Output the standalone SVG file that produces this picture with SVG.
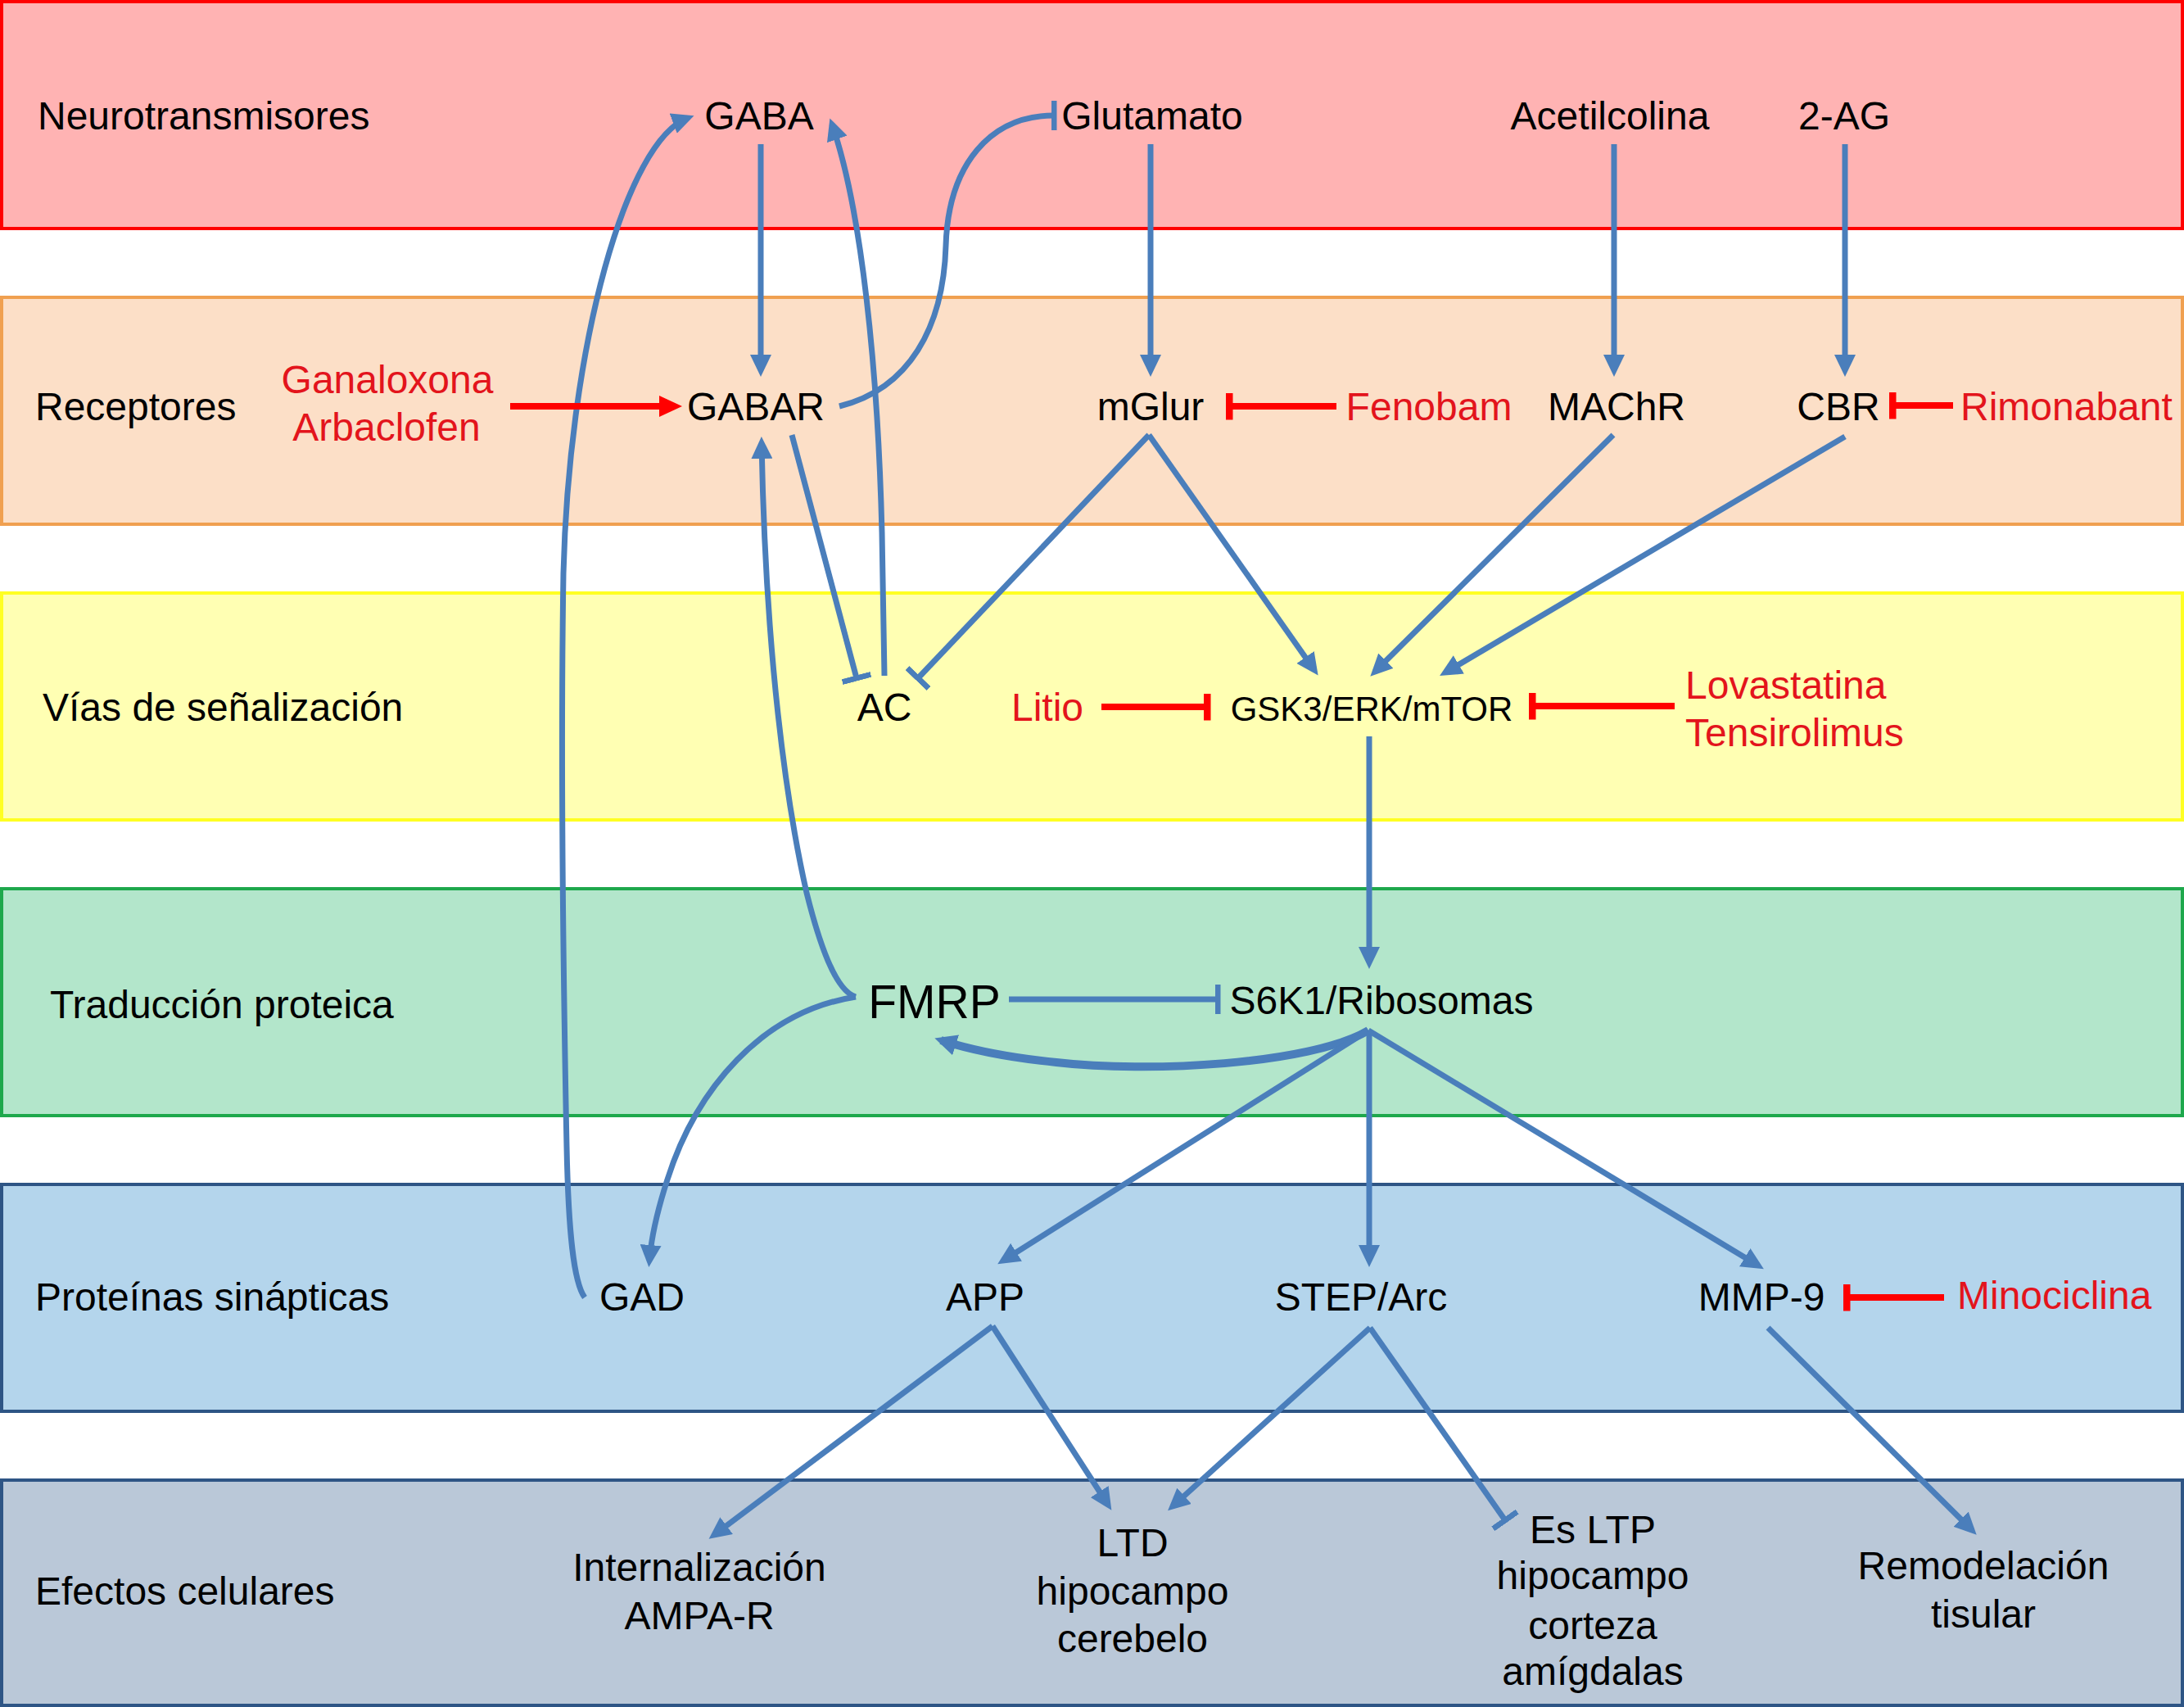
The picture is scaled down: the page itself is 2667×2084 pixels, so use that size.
<svg xmlns="http://www.w3.org/2000/svg" width="2667" height="2084" viewBox="0 0 2667 2084">
<style>
.t{font-family:"Liberation Sans",Arial,sans-serif;font-size:48px;fill:#000}
.m{text-anchor:middle}
.r{fill:#E3141C}
.c{fill:none;stroke:#4A7EBB;stroke-width:7}
.cr{fill:none;stroke:#FF0000;stroke-width:8}
</style>
<defs>
<marker id="arr" viewBox="0 0 27 26" refX="19" refY="13" markerWidth="27" markerHeight="26" markerUnits="userSpaceOnUse" orient="auto"><path d="M0,0 L27,13 L0,26 z" fill="#4A7EBB"/></marker>
<marker id="teeB" viewBox="0 0 7 36" refX="3.5" refY="18" markerWidth="7" markerHeight="36" markerUnits="userSpaceOnUse" orient="auto"><rect x="0" y="0" width="7" height="36" fill="#4A7EBB"/></marker>
<marker id="teeR" viewBox="0 0 9 33" refX="4.5" refY="16.5" markerWidth="9" markerHeight="33" markerUnits="userSpaceOnUse" orient="auto"><rect x="0" y="0" width="9" height="33" fill="#FF0000"/></marker>
<marker id="arrR" viewBox="0 0 28 26" refX="5" refY="13" markerWidth="28" markerHeight="26" markerUnits="userSpaceOnUse" orient="auto"><path d="M0,0 L28,13 L0,26 z" fill="#FF0000"/></marker>
</defs>
<g id="bands">
<rect id="band-neuro" x="2" y="2" width="2663" height="277" fill="#FFB3B3" stroke="#FF0000" stroke-width="4"/>
<rect id="band-recep" x="2" y="363" width="2663" height="277" fill="#FCDFC7" stroke="#F0A050" stroke-width="4"/>
<rect id="band-vias" x="2" y="724" width="2663" height="277" fill="#FFFFB3" stroke="#FFFF22" stroke-width="4"/>
<rect id="band-trad" x="2" y="1085" width="2663" height="277" fill="#B3E6CB" stroke="#1EA84C" stroke-width="4"/>
<rect id="band-prot" x="2" y="1446" width="2663" height="277" fill="#B4D5EC" stroke="#2E5585" stroke-width="4"/>
<rect id="band-efec" x="2" y="1807" width="2663" height="275" fill="#BAC8D8" stroke="#2E5585" stroke-width="4"/>
</g>
<g id="lane-labels" class="t">
<text x="46" y="158">Neurotransmisores</text>
<text x="43" y="513">Receptores</text>
<text x="52" y="880">Vías de señalización</text>
<text x="61" y="1243">Traducción proteica</text>
<text x="43" y="1600">Proteínas sinápticas</text>
<text x="43" y="1959">Efectos celulares</text>
</g>
<g id="connectors">
<path class="c" d="M929,176 L929,452" marker-end="url(#arr)"/>
<path class="c" d="M1405,176 L1405,452" marker-end="url(#arr)"/>
<path class="c" d="M1971,176 L1971,452" marker-end="url(#arr)"/>
<path class="c" d="M2253,176 L2253,452" marker-end="url(#arr)"/>
<path class="c" d="M1025,496 C1110,475 1152,400 1155,300 C1158,200 1210,141 1287,141" marker-end="url(#teeB)"/>
<path class="c" d="M714,1584 C700,1565 694,1500 692,1400 C688,1200 684,950 688,700 C695,420 765,172 840,144" marker-end="url(#arr)"/>
<path class="c" d="M1080,825 L1077,650 C1072,450 1052,255 1016,152" marker-end="url(#arr)"/>
<path class="c" d="M967,531 L1046,828" marker-end="url(#teeB)"/>
<path class="c" d="M1403,531 L1121,828" marker-end="url(#teeB)"/>
<path class="c" d="M1403,531 L1605,818" marker-end="url(#arr)"/>
<path class="c" d="M1970,531 L1679,820" marker-end="url(#arr)"/>
<path class="c" d="M2253,533 L1765,821" marker-end="url(#arr)"/>
<path class="c" d="M1672,899 L1672,1175" marker-end="url(#arr)"/>
<path class="c" d="M1232,1220 L1487,1220" marker-end="url(#teeB)"/>
<path class="c" d="M1045,1217 C1020,1210 1000,1150 985,1090 C960,980 935,800 930,541" marker-end="url(#arr)"/>
<path class="c" d="M1045,1217 C930,1235 850,1330 815,1440 C802,1480 795,1515 793,1539" marker-end="url(#arr)"/>
<path class="c" style="stroke-width:10" d="M1671,1258 C1600,1300 1400,1310 1290,1297 C1220,1290 1180,1280 1149,1270" marker-end="url(#arr)"/>
<path class="c" d="M1671,1258 L1225,1539" marker-end="url(#arr)"/>
<path class="c" d="M1672,1258 L1672,1539" marker-end="url(#arr)"/>
<path class="c" d="M1671,1258 L2147,1545" marker-end="url(#arr)"/>
<path class="c" d="M1212,1619 L872,1874" marker-end="url(#arr)"/>
<path class="c" d="M1212,1619 L1353,1837" marker-end="url(#arr)"/>
<path class="c" d="M1673,1621 L1432,1839" marker-end="url(#arr)"/>
<path class="c" d="M1673,1621 L1838,1856" marker-end="url(#teeB)"/>
<path class="c" d="M2159,1621 L2408,1868" marker-end="url(#arr)"/>
<path class="cr" d="M623,496 L810,496" marker-end="url(#arrR)"/>
<path class="cr" d="M1632,496 L1501,496" marker-end="url(#teeR)"/>
<path class="cr" d="M2385,495 L2311,495" marker-end="url(#teeR)"/>
<path class="cr" d="M1345,863 L1474,863" marker-end="url(#teeR)"/>
<path class="cr" d="M2045,862 L1871,862" marker-end="url(#teeR)"/>
<path class="cr" d="M2374,1584 L2255,1584" marker-end="url(#teeR)"/>
</g>
<g id="node-gaba"><text class="t m" x="927" y="158">GABA</text></g>
<g id="node-glutamato"><text class="t m" x="1407" y="158">Glutamato</text></g>
<g id="node-acetilcolina"><text class="t m" x="1966" y="158">Acetilcolina</text></g>
<g id="node-2ag"><text class="t m" x="2252" y="158">2-AG</text></g>
<g id="node-ganaloxona"><text class="t m r" x="473" y="480">Ganaloxona</text><text class="t m r" x="472" y="538">Arbaclofen</text></g>
<g id="node-gabar"><text class="t m" x="923" y="513">GABAR</text></g>
<g id="node-mglur"><text class="t m" x="1405" y="513">mGlur</text></g>
<g id="node-fenobam"><text class="t m r" x="1745" y="513">Fenobam</text></g>
<g id="node-machr"><text class="t m" x="1974" y="513">MAChR</text></g>
<g id="node-cbr"><text class="t m" x="2245" y="513">CBR</text></g>
<g id="node-rimonabant"><text class="t r" x="2394" y="513">Rimonabant</text></g>
<g id="node-ac"><text class="t m" x="1080" y="880">AC</text></g>
<g id="node-litio"><text class="t m r" x="1279" y="880">Litio</text></g>
<g id="node-gsk3"><text class="t m" x="1675" y="880" style="font-size:42px">GSK3/ERK/mTOR</text></g>
<g id="node-lovastatina"><text class="t r" x="2058" y="853">Lovastatina</text><text class="t r" x="2058" y="911">Tensirolimus</text></g>
<g id="node-fmrp"><text class="t m" x="1141" y="1243" style="font-size:57px">FMRP</text></g>
<g id="node-s6k1"><text class="t m" x="1687" y="1238">S6K1/Ribosomas</text></g>
<g id="node-gad"><text class="t m" x="784" y="1600">GAD</text></g>
<g id="node-app"><text class="t m" x="1203" y="1600">APP</text></g>
<g id="node-step"><text class="t m" x="1662" y="1600">STEP/Arc</text></g>
<g id="node-mmp9"><text class="t m" x="2151" y="1600">MMP-9</text></g>
<g id="node-minociclina"><text class="t r" x="2390" y="1598">Minociclina</text></g>
<g id="node-ampar"><text class="t m" x="854" y="1930">Internalización</text><text class="t m" x="854" y="1989">AMPA-R</text></g>
<g id="node-ltd"><text class="t m" x="1383" y="1900">LTD</text><text class="t m" x="1383" y="1959">hipocampo</text><text class="t m" x="1383" y="2017">cerebelo</text></g>
<g id="node-esltp"><text class="t m" x="1945" y="1884">Es LTP</text><text class="t m" x="1945" y="1940">hipocampo</text><text class="t m" x="1945" y="2001">corteza</text><text class="t m" x="1945" y="2057">amígdalas</text></g>
<g id="node-remodelacion"><text class="t m" x="2422" y="1928">Remodelación</text><text class="t m" x="2422" y="1987">tisular</text></g>
</svg>
